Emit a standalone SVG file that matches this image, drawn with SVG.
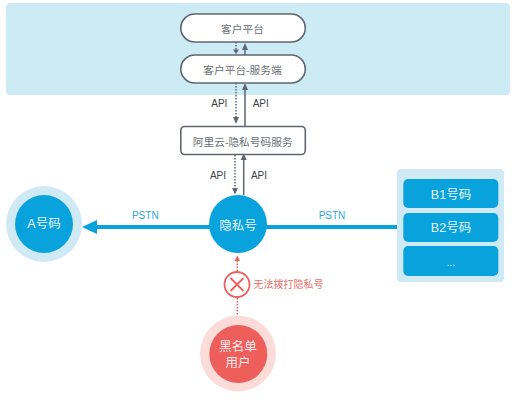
<svg xmlns="http://www.w3.org/2000/svg" width="515" height="408" viewBox="0 0 515 408">
<style>
text{font-family:"Liberation Sans","Noto Sans CJK SC",sans-serif;text-anchor:middle}
.box{fill:#fff;stroke:#5f6670;stroke-width:1.6}
.dark{font-size:10.7px;fill:#6a6f76}
.api{font-size:10px;fill:#3c4148}
.w{font-size:12.5px;fill:#e8f6fc}
.pstn{font-size:10px;fill:#2ba6dc}
.b{fill:#08a2dc}
.s{stroke:#5f6670;stroke-width:1.5;fill:none}
.d{stroke:#5f6670;stroke-width:1.5;fill:none;stroke-dasharray:1.5 1.5}
.ah{fill:#5f6670}
</style>
<rect width="515" height="408" fill="#fff"/>
<rect x="6" y="3" width="504" height="92" rx="4" fill="#cdebf5"/>
<g id="connectors">
<path class="d" d="M236 42V50M236 83V118M235 155V189"/>
<path class="s" d="M245 50V55M245 88V126M243.700 158V195"/>
<path class="ah" d="M233 49.500h6l-3 4.500zM242 50h6l-3-7zM233 117h6l-3 7zM242 90h6l-3-7zM232 188h6l-3 6.500zM240.700 160h6l-3-6.500z"/>
<path d="M96 227H212M262 227H398" stroke="#08a2dc" stroke-width="4" fill="none"/>
<path d="M82 227L97 220V234Z" fill="#08a2dc"/>
<path d="M237.300 271V260M237.300 298V316" stroke="#ee5f5b" stroke-width="1.5" stroke-dasharray="1.5 1.5" fill="none"/>
<path d="M234.600 261L237.300 255.500L240 261Z" fill="#ee5f5b"/>
<text class="api" x="219.300" y="107">API</text>
<text class="api" x="260.700" y="107">API</text>
<text class="api" x="218" y="179">API</text>
<text class="api" x="259" y="178.500">API</text>
<text class="pstn" x="145.300" y="219">PSTN</text>
<text class="pstn" x="332" y="219">PSTN</text>
</g>
<g id="client"><rect class="box" x="180.800" y="14" width="124.500" height="28" rx="14"/><text class="dark" x="242.500" y="33">客户平台</text></g>
<g id="server"><rect class="box" x="180.800" y="55" width="124.500" height="28" rx="14"/><text class="dark" x="242.500" y="74">客户平台-服务端</text></g>
<g id="aliyun"><rect class="box" x="180.800" y="126.500" width="124.500" height="28" rx="4"/><text class="dark" x="242.700" y="145.500">阿里云-隐私号码服务</text></g>
<g id="a"><circle cx="44" cy="224" r="38" fill="#cfe9f5"/><circle cx="44" cy="224" r="29" class="b"/><text class="w" x="44" y="228">A号码</text></g>
<g id="hidden"><circle cx="238" cy="224" r="29" class="b"/><text class="w" x="238" y="229.500" style="font-size:12.500px">隐私号</text></g>
<g id="b-group"><rect x="397" y="169" width="107" height="113" rx="4" fill="#cfe9f5"/>
<rect class="b" x="403.300" y="179" width="95" height="29" rx="5"/><text class="w" x="451" y="198.500">B1号码</text>
<rect class="b" x="403.300" y="213" width="95" height="29" rx="5"/><text class="w" x="451" y="232">B2号码</text>
<rect class="b" x="403.300" y="246" width="95" height="30" rx="5"/><text class="w" x="451" y="266" style="font-size:10px">...</text></g>
<g id="block"><circle cx="237" cy="284.500" r="12.500" fill="#fff" stroke="#ee5f5b" stroke-width="1.800"/><path d="M230.500 278L243.500 291M243.500 278L230.500 291" stroke="#ee5f5b" stroke-width="1.800"/><text x="288.500" y="288" style="font-size:10px;fill:#ee6f6b">无法拨打隐私号</text></g>
<g id="blacklist"><circle cx="238" cy="353.500" r="38" fill="#fcdcd9"/><circle cx="238.300" cy="354" r="29" fill="#ee5f5b"/><text class="w" x="238" y="351" style="fill:#fdeeee">黑名单</text><text class="w" x="238" y="367" style="fill:#fdeeee">用户</text></g>
</svg>
